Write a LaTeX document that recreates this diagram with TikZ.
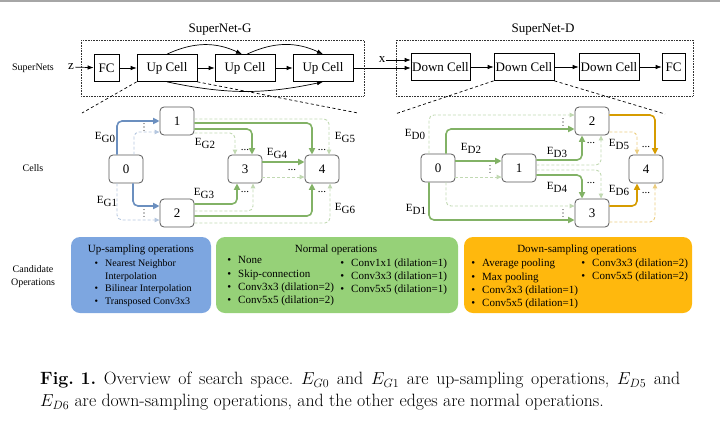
\documentclass[tikz,border=0pt]{standalone}
\usepackage{fontspec}
\newfontfamily\figfont{Liberation Serif}
\usetikzlibrary{arrows}
\usetikzlibrary{arrows.meta}
\usetikzlibrary{calc}
\usetikzlibrary{positioning}
\definecolor{eblue}{rgb}{0.42, 0.56, 0.75}
\definecolor{egreen}{rgb}{0.51, 0.70, 0.40}
\definecolor{eorange}{rgb}{0.84, 0.61, 0}
\definecolor{bblue}{rgb}{0.49, 0.65, 0.88}
\definecolor{bgreen}{rgb}{0.59, 0.82, 0.47}
\definecolor{borange}{rgb}{1, 0.72, 0.05}
\newcommand{\elab}[1]{E\raisebox{-3pt}{#1}}
\newcommand{\bul}{\llap{\textbullet\hspace{7pt}}}
\tikzset{fig/.style = {font = \figfont\fontsize{#1}{#1}\selectfont}}
\tikzset{cell/.style = {draw = black!65, line width = 0.8pt, rounded corners = 4pt, minimum width = 34pt, minimum height = 28pt, inner sep = 0pt, fill = white, fig = 13}}
\tikzset{blk/.style = {draw, line width = 0.7pt, minimum height = 27pt, inner sep = 0pt, fig = 13}}
\tikzset{net/.style = {line width = 0.7pt, -{Latex[length = 6pt, width = 4.5pt]}}}
\tikzset{zoomline/.style = {line width = 0.7pt, dash pattern = on 3pt off 2.5pt}}
\tikzset{frame/.style = {black!80, line width = 0.7pt, dash pattern = on 0.8pt off 0.8pt}}
\tikzset{elabel/.style = {inner sep = 0pt, fig = 11}}
\tikzset{more/.style = {inner sep = 0pt, fig = 11}}
\tikzset{mainarr/.style = {#1, line width = 1.6pt, rounded corners = 5pt, -{Triangle[length = 6.5pt, width = 6pt]}}}
\tikzset{altarr/.style = {#1!50, line width = 0.9pt, rounded corners = 5pt, dash pattern = on 3pt off 2pt, -{Triangle[length = 5pt, width = 4.5pt]}}}
\tikzset{opbox/.style = {rounded corners = 9pt, minimum height = 76pt, inner sep = 0pt}}
\tikzset{opitem/.style = {anchor = west, inner sep = 0pt, text height = 7.5pt, text depth = 2.5pt, fig = #1}}

\begin{document}
\begin{tikzpicture}[x = 1pt, y = -1pt]
      \useasboundingbox (0, 0) rectangle (720, 421);
      \draw [black!35, line width = 1.5pt] (0, 0.75) -- (720, 0.75);

      % supernets
      \node [fig = 10] (snlab) at (33, 68) {SuperNets};
      \node [fig = 13, inner sep = 1pt] (zin) at (71, 67) {z};
      \node [blk, minimum width = 25pt] (fcg) at (106.5, 68) {FC};
      \node [blk, minimum width = 60pt] (uc1) at (167, 68) {Up Cell};
      \node [blk, minimum width = 60pt] (uc2) at (245, 68) {Up Cell};
      \node [blk, minimum width = 60pt] (uc3) at (323, 68) {Up Cell};
      \node [fig = 13, inner sep = 1pt] (xin) at (382, 60) {x};
      \node [blk, minimum width = 59pt] (dc1) at (440.5, 67) {Down Cell};
      \node [blk, minimum width = 60pt] (dc2) at (524, 67) {Down Cell};
      \node [blk, minimum width = 60pt] (dc3) at (609, 67) {Down Cell};
      \node [blk, minimum width = 23pt] (fcd) at (673.5, 67) {FC};
      \draw [net] (zin) -- (fcg);
      \draw [net] (fcg) -- (uc1);
      \draw [net] (uc1) -- (uc2);
      \draw [net] (uc2) -- (uc3);
      \draw [net] (uc3.east) -- ($(dc1.west)+(0, 1)$);
      \draw [net] (xin) -- ($(dc1.west)+(0, -7)$);
      \draw [net] (dc1) -- (dc2);
      \draw [net] (dc2) -- (dc3);
      \draw [net] (dc3) -- (fcd);
      \draw [net] (uc1.north) to [bend left = 25] ($(uc2.north)+(-3, 0)$);
      \draw [net] ($(uc2.north)+(2, 0)$) to [bend left = 25] (uc3.north);
      \draw [net] (uc1.south) to [bend right = 12] (uc3.south);
      \draw [frame] (81, 40) rectangle (364, 96);
      \draw [frame] (396, 40) rectangle (693, 96);
      \node [fig = 13] (gtitle) at (220, 30) {SuperNet-G};
      \node [fig = 13] (dtitle) at (543, 30) {SuperNet-D};

      \coordinate (gl) at (82, 113);
      \coordinate (gr) at (358, 113);
      \coordinate (dl) at (395, 114);
      \coordinate (dr) at (665, 114);
      \draw [zoomline] (uc1.south west) -- (gl);
      \draw [zoomline] (uc1.south east) -- (gr);
      \draw [zoomline] (dc2.south west) -- (dl);
      \draw [zoomline] (dc2.south east) -- (dr);

      % generator cell
      \node [fig = 10] (celllab) at (33, 168) {Cells};
      \node [cell] (g0) at (126, 169) {0};
      \node [cell] (g1) at (177, 121) {1};
      \node [cell] (g2) at (177, 213) {2};
      \node [cell] (g3) at (245, 169) {3};
      \node [cell] (g4) at (322, 169) {4};
      \draw [altarr = eblue] ($(g0.north)+(8, 0)$) |- ($(g1.west)+(0, 11)$);
      \draw [altarr = eblue] ($(g0.south)+(-9, 0)$) |- ($(g2.west)+(0, 7)$);
      \draw [mainarr = eblue] ($(g0.north)+(-9, 0)$) |- (g1.west);
      \draw [mainarr = eblue] ($(g0.south)+(7, 0)$) |- ($(g2.west)+(0, -7)$);
      \draw [altarr = egreen] ($(g1.east)+(0, -2)$) -| ($(g4.north)+(7, 0)$);
      \draw [altarr = egreen] ($(g1.east)+(0, 12)$) -| ($(g3.north)+(-10, 0)$);
      \draw [mainarr = egreen] ($(g1.east)+(0, 2)$) -| ($(g4.north)+(-10, 0)$);
      \draw [mainarr = egreen] ($(g1.east)+(0, 8)$) -| ($(g3.north)+(7, 0)$);
      \draw [altarr = egreen] ($(g3.east)+(0, 8)$) -- ($(g4.west)+(0, 8)$);
      \draw [mainarr = egreen] ($(g3.east)+(0, -7)$) -- ($(g4.west)+(0, -7)$);
      \draw [altarr = egreen] ($(g2.east)+(0, -2)$) -| ($(g3.south)+(8, 0)$);
      \draw [altarr = egreen] ($(g2.east)+(0, 10)$) -| ($(g4.south)+(8, 0)$);
      \draw [mainarr = egreen] ($(g2.east)+(0, -9)$) -| ($(g3.south)+(-8, 0)$);
      \draw [mainarr = egreen] ($(g2.east)+(0, 3)$) -| ($(g4.south)+(-10, 0)$);
      \foreach \p in {(144, 127), (144, 213)} {
        \foreach \k in {-1, 0, 1}
          \fill [shift = {\p}] (0, 3.4 * \k) circle (0.55pt);
      }
      \foreach \p in {(245, 150), (322, 150), (292, 170), (245, 192), (322, 192)} {
        \node [more] at \p {...};
      }
      \node [elabel] at (105, 137) {\elab{G0}};
      \node [elabel] at (107, 201) {\elab{G1}};
      \node [elabel] at (205, 143) {\elab{G2}};
      \node [elabel] at (204, 193) {\elab{G3}};
      \node [elabel] at (277, 153) {\elab{G4}};
      \node [elabel] at (345, 137) {\elab{G5}};
      \node [elabel] at (345, 208) {\elab{G6}};

      % discriminator cell
      \node [cell] (d0) at (438, 168) {0};
      \node [cell] (d1) at (519, 168) {1};
      \node [cell] (d2) at (592, 121) {2};
      \node [cell] (d3) at (592, 213) {3};
      \node [cell] (d4) at (646, 169) {4};
      \draw [altarr = egreen] ($(d0.north)+(-9, 0)$) |- ($(d2.west)+(0, -6)$);
      \draw [altarr = egreen] ($(d0.east)+(0, 9)$) -- ($(d1.west)+(0, 9)$);
      \draw [altarr = egreen] ($(d0.south)+(8, 0)$) |- ($(d3.west)+(0, -7)$);
      \draw [mainarr = egreen] ($(d0.north)+(8, 0)$) |- ($(d2.west)+(0, 8)$);
      \draw [mainarr = egreen] ($(d0.east)+(0, -7)$) -- ($(d1.west)+(0, -7)$);
      \draw [mainarr = egreen] ($(d0.south)+(-9, 0)$) |- ($(d3.west)+(0, 7)$);
      \draw [altarr = egreen] ($(d1.east)+(0, -3)$) -| ($(d2.south)+(9, 0)$);
      \draw [altarr = egreen] ($(d1.east)+(0, 2)$) -| ($(d3.north)+(9, 0)$);
      \draw [mainarr = egreen] ($(d1.east)+(0, -8)$) -| ($(d2.south)+(-10, 0)$);
      \draw [mainarr = egreen] ($(d1.east)+(0, 7)$) -| ($(d3.north)+(-10, 0)$);
      \draw [altarr = eorange] ($(d2.east)+(0, 11)$) -| ($(d4.north)+(-9, 0)$);
      \draw [altarr = eorange] ($(d3.east)+(0, 9)$) -| ($(d4.south)+(9, 0)$);
      \draw [mainarr = eorange] ($(d2.east)+(0, -6)$) -| ($(d4.north)+(9, 0)$);
      \draw [mainarr = eorange] ($(d3.east)+(0, -7)$) -| ($(d4.south)+(-9, 0)$);
      \foreach \p in {(563, 122), (490, 169), (563, 213)} {
        \foreach \k in {-1, 0, 1}
          \fill [shift = {\p}] (0, 3.4 * \k) circle (0.55pt);
      }
      \foreach \p in {(591, 143), (591, 183), (646, 147), (646, 193)} {
        \node [more] at \p {...};
      }
      \node [elabel] at (415, 134) {\elab{D0}};
      \node [elabel] at (416, 209) {\elab{D1}};
      \node [elabel] at (471, 148) {\elab{D2}};
      \node [elabel] at (557, 152) {\elab{D3}};
      \node [elabel] at (557, 187) {\elab{D4}};
      \node [elabel] at (619, 144) {\elab{D5}};
      \node [elabel] at (619, 190) {\elab{D6}};

      % candidate operations
      \node [font = \figfont\fontsize{10}{13}\selectfont, align = center] (candlab) at (33, 277) {Candidate\\Operations};
      \node [opbox, fill = bblue, minimum width = 140pt] (upbox) at (141, 275) {};
      \node [opbox, fill = bgreen, minimum width = 242pt] (nbox) at (337, 275) {};
      \node [opbox, fill = borange, minimum width = 228pt] (dbox) at (578, 275) {};
      \node [fig = 11] at (141, 250) {Up-sampling operations};
      \node [fig = 11] at (336, 250) {Normal operations};
      \node [fig = 11] at (577, 250) {Down-sampling operations};
      \node [opitem = 10] at (105, 264) {\bul Nearest Neighbor};
      \node [opitem = 10] at (105, 277) {Interpolation};
      \node [opitem = 10] at (105, 289) {\bul Bilinear Interpolation};
      \node [opitem = 10] at (105, 302) {\bul Transposed Conv3x3};
      \foreach \t [count = \i] in {None, Skip-connection, Conv3x3 (dilation=2), Conv5x5 (dilation=2)} {
        \node [opitem = 11] at (238, 248 + 13.3 * \i) {\bul\t};
      }
      \foreach \t [count = \i] in {Conv1x1 (dilation=1), Conv3x3 (dilation=1), Conv5x5 (dilation=1)} {
        \node [opitem = 11] at (351, 251 + 13 * \i) {\bul\t};
      }
      \foreach \t [count = \i] in {Average pooling, Max pooling, Conv3x3 (dilation=1), Conv5x5 (dilation=1)} {
        \node [opitem = 11] at (482, 251 + 13.3 * \i) {\bul\t};
      }
      \foreach \t [count = \i] in {Conv3x3 (dilation=2), Conv5x5 (dilation=2)} {
        \node [opitem = 11] at (592, 251 + 13 * \i) {\bul\t};
      }

      % caption
      \node [anchor = north west, text width = 640pt, align = justify, inner sep = 0pt, font = \fontsize{17.8}{22}\selectfont] (cap) at (40, 372) {\frenchspacing\mbox{\textbf{Fig.\ 1.}} Overview of search space. $E_{G0}$ and $E_{G1}$ are up-sampling operations, $E_{D5}$ and\linebreak $E_{D6}$ are down-sampling operations, and the other edges are normal operations.};
\end{tikzpicture}
\end{document}
